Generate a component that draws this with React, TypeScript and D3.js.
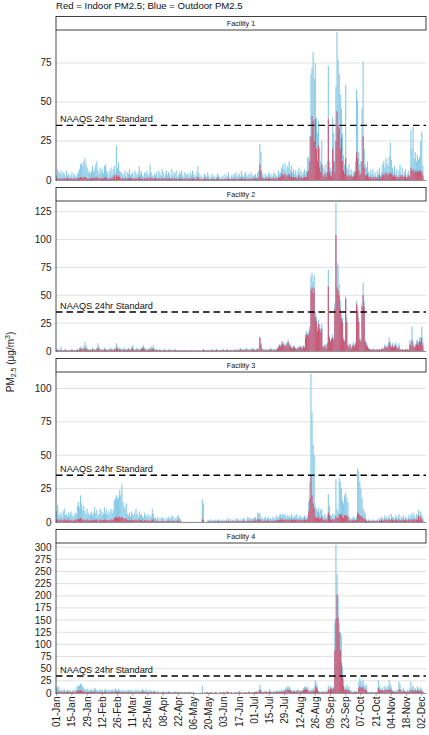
import React from "react";
import * as d3 from "d3";

// ---------------- DATA (daily means, 01-Jan-2020 .. 05-Dec-2020) ----------------
const FACILITIES = ["Facility 1", "Facility 2", "Facility 3", "Facility 4"];
const DATE_TICKS = [
  "01-Jan", "15-Jan", "29-Jan", "12-Feb", "26-Feb", "11-Mar", "25-Mar", "08-Apr",
  "22-Apr", "06-May", "20-May", "03-Jun", "17-Jun", "01-Jul", "15-Jul", "29-Jul",
  "12-Aug", "26-Aug", "09-Sep", "23-Sep", "07-Oct", "21-Oct", "04-Nov", "18-Nov", "02-Dec",
];
const TICK_EVERY_DAYS = 14;
const NAAQS = 35;
const NAAQS_LABEL = "NAAQS 24hr Standard";
const Y_TICK_STEP = 25;
const TITLE = "Red = Indoor PM2.5; Blue = Outdoor PM2.5";

const f1Outdoor = [
  3,7,5,4,6,3,5,4,2,6,3,4,2,3,5,2,4,3,2,4,5,7,10,11,9,12,14,10,8,6,5,
  4,6,9,5,7,10,12,6,4,8,5,7,4,9,10,6,5,3,6,8,4,7,9,5,22,8,11,6,5,
  5,3,4,6,2,5,4,7,3,4,5,2,6,4,3,5,9,4,6,3,2,5,4,6,3,4,10,5,3,2,4,
  3,5,2,6,4,3,7,5,2,4,6,3,5,4,2,7,3,5,4,6,2,3,5,4,6,3,2,5,4,3,
  4,2,5,3,6,4,2,3,5,9,4,2,3,1,2,4,3,2,5,3,1,2,4,2,3,1,2,4,3,2,1,
  2,3,1,4,2,3,5,2,1,3,2,4,3,5,2,3,4,2,6,3,2,4,5,3,2,4,3,5,2,3,
  3,4,2,5,6,23,18,5,3,2,4,3,2,5,3,4,2,3,5,4,3,2,6,4,5,8,10,7,11,6,9,
  8,12,6,9,5,7,4,6,3,5,8,4,6,3,5,7,4,6,15,14,28,68,72,82,65,75,40,30,38,20,12,
  25,8,6,10,5,12,73,12,8,6,40,30,12,60,95,77,68,55,46,30,16,10,61,8,6,10,4,7,3,5,
  6,12,58,51,18,10,12,46,76,20,10,8,12,5,3,6,4,7,3,5,2,6,4,8,3,5,10,12,8,14,11,
  9,15,24,13,8,5,9,4,7,3,6,10,4,8,3,5,7,2,4,6,3,32,20,34,14,18,12,16,13,15,
  25,31,9,null,null,
];
const f1Indoor = [
  1,1,0.5,1,1,0.5,1,1,0.5,1,1,1,0.5,1,1,0.5,1,1,0.5,1,1,1.5,2,1.5,1,2,2,1.5,1,1,1,
  1,1,1.5,1,1,2,2,1,1,1.5,1,1,1,1.5,2,1,1,0.5,1,1.5,1,2,3,1,3,2,3,2,1,
  1,1,1,1.5,0.5,1,1,1.5,1,1,1,0.5,1,1,1,1,2,1,1,0.5,0.5,1,1,1.5,1,1,2,1,1,0.5,1,
  1,1,0.5,1,1,0.5,1.5,1,0.5,1,1,0.5,1,1,0.5,1.5,0.5,1,1,1,0.5,0.5,1,1,1,0.5,0.5,1,1,0.5,
  1,0.5,1,0.5,1,1,0.5,0.5,1,2,1,0.5,0.5,0.3,0.5,1,0.5,0.5,1,0.5,0.3,0.5,1,0.5,0.5,0.3,0.5,1,0.5,0.5,0.3,
  0.5,0.5,0.3,1,0.5,0.5,1,0.5,0.3,0.5,0.5,1,0.5,1,0.5,0.5,1,0.5,1.5,0.5,0.5,1,1,0.5,0.5,1,0.5,1,0.5,1,
  1,1,0.5,1,1.5,10,6,1.5,1,0.5,1,1,0.5,1.5,1,1,0.5,1,1.5,1,1,0.5,2,1.5,2,3,4,2.5,4,2,3,
  3,4,2,3,1.5,2,1.5,2,1,1.5,3,1.5,2,1,1.5,2,1.5,2,5,6,12,28,41,38,25,39,20,12,22,8,5,
  10,3,2,4,2,5,39,5,3,2,20,12,5,25,44,35,33,20,27,12,6,4,14,3,2,3,2,3,2,2,
  3,5,18,14,6,3,4,12,28,8,3,3,4,2,1,2,1,2,1,2,1,2,1,3,1,2,3,4,3,5,4,
  3,4,5,4,3,2,3,2,2,1,2,3,2,3,1,2,3,1,2,3,2,8,6,7,5,6,5,6,5,6,
  6,5,3,null,null,
];

const f2Outdoor = [
  1,2,1,1,4,1,0.5,1,2,0.5,1,0.5,1,1,2,1,0.5,1,1,2,1,3,4,3,2,4,8,5,3,2,1,
  2,1,3,2,1,2,3,7,4,2,1,2,1,3,2,1,2,1,2,3,2,1,3,2,7,4,2,3,2,
  2,1,3,2,1,2,3,2,1,4,5,2,1,2,3,2,1,2,3,4,5,3,2,1,2,3,2,4,3,5,2,
  1,2,1,1,2,1,0.5,1,2,1,1,0.5,1,2,1,0.5,1,1,2,1,0.5,1,1,0.5,1,0.5,1,1,0.5,1,
  0.5,1,0.5,1,0.5,0.5,1,0.5,1,0.5,1,0.5,0.5,1,2,1,0.5,1,0.5,1,0.5,1,2,1,0.5,1,2,1,0.5,1,1,
  1,2,1,0.5,1,2,1,0.5,1,1,0.5,1,2,1,1,2,1,3,2,1,2,1,2,3,1,2,1,2,3,2,
  2,1,2,3,2,13,8,3,2,1,2,1,2,1,2,3,2,1,2,1,2,3,4,6,5,8,9,6,7,5,8,
  10,7,6,4,3,5,4,3,2,4,3,5,4,3,5,4,15,18,16,17,22,67,70,62,68,35,31,22,28,24,20,
  24,5,4,6,3,8,73,14,10,12,15,12,43,133,79,77,60,45,33,30,12,10,49,30,6,4,7,3,5,8,
  5,8,45,40,30,12,10,43,61,45,10,8,5,3,2,1,2,1,2,1,1,2,1,2,1,2,3,2,6,5,4,
  6,12,8,5,7,4,6,8,5,3,7,2,1,2,1,1,2,1,2,1,10,8,22,8,4,6,9,10,8,12,
  12,22,8,null,null,
];
const f2Indoor = [
  0.5,1,0.5,0.5,1,0.5,0.3,0.5,1,0.3,0.5,0.3,0.5,0.5,1,0.5,0.3,0.5,0.5,1,0.5,1.5,2,1.5,1,2,3,2,1.5,1,0.5,
  1,0.5,1.5,1,0.5,1,1.5,3,2,1,0.5,1,0.5,1.5,1,0.5,1,0.5,1,1.5,1,0.5,1.5,1,3,2,1,1.5,1,
  1,0.5,1.5,1,0.5,1,1.5,1,0.5,2,2.5,1,0.5,1,1.5,1,0.5,1,1.5,2,2.5,1.5,1,0.5,1,1.5,1,2,1.5,2.5,1,
  0.5,1,0.5,0.5,1,0.5,0.3,0.5,1,0.5,0.5,0.3,0.5,1,0.5,0.3,0.5,0.5,1,0.5,0.3,0.5,0.5,0.3,0.5,0.3,0.5,0.5,0.3,0.5,
  0.3,0.5,0.3,0.5,0.3,0.3,0.5,0.3,0.5,0.3,0.5,0.3,0.3,0.5,1,0.5,0.3,0.5,0.3,0.5,0.3,0.5,1,0.5,0.3,0.5,1,0.5,0.3,0.5,0.5,
  0.5,1,0.5,0.3,0.5,1,0.5,0.3,0.5,0.5,0.3,0.5,1,0.5,0.5,1,0.5,1.5,1,0.5,1,0.5,1,1.5,0.5,1,0.5,1,1.5,1,
  1,0.5,1,1.5,1,12,6,1.5,1,0.5,1,0.5,1,0.5,1,1.5,1,0.5,1,0.5,1,2,3,5,4,6,7,5,5,4,6,
  8,5,4,3,2,4,3,2,1.5,3,2,4,3,2,4,3,12,15,14,15,19,55,57,52,56,30,27,18,24,20,17,
  20,4,3,5,2,6,58,12,8,10,12,10,38,104,57,54,50,38,29,26,10,8,47,26,5,3,6,2,4,6,
  4,6,42,36,26,10,8,40,50,40,8,6,4,2,1.5,1,1.5,1,1.5,1,1,1.5,1,1.5,1,1.5,2,1.5,4,3,3,
  4,8,5,3,5,3,4,5,3,2,4,1.5,1,1.5,1,1,1.5,1,1.5,1,6,5,10,5,3,4,6,7,5,9,
  8,12,5,null,null,
];

const f3Outdoor = [
  8,13,6,5,7,4,8,10,5,6,4,7,5,8,6,4,5,7,6,12,15,11,20,14,9,12,8,6,10,7,5,
  6,8,5,7,11,7,9,5,6,10,8,5,7,11,6,9,5,8,6,10,7,9,16,18,20,17,19,24,20,
  28,15,12,10,14,6,5,7,4,8,6,5,7,10,6,4,8,5,6,4,3,7,5,4,6,3,5,4,10,6,3,
  3,2,4,1,3,2,4,3,2,1,3,2,4,2,3,5,4,2,3,2,4,5,3,2,null,null,null,null,null,null,
  null,null,null,null,null,null,null,null,null,null,null,null,null,17,14,null,null,null,1,1.5,1,2,1,1.5,1,2,1,1.5,2,1,1.5,
  1,2,1,1.5,2,1,3,1,2,1,1.5,2,1,2,3,2,1.5,2,1,2,3,2,1,2,4,3,2,3,2,3,
  3,4,2,7,6,7,4,3,2,3,4,2,3,4,2,3,2,4,3,2,5,4,3,5,6,4,6,5,6,4,5,
  4,5,3,6,4,3,5,4,6,3,4,5,3,4,3,5,4,3,5,15,30,111,82,58,50,12,10,8,11,7,9,
  10,5,4,6,3,5,21,12,5,4,6,3,6,32,10,8,33,30,25,16,14,20,22,18,15,4,3,2,3,4,
  3,2,4,40,38,30,25,18,10,8,6,2,1,2,1,1.5,1,2,1,1.5,1,2,1,3,2,4,3,2,5,3,4,
  3,5,2,6,4,3,2,5,4,3,6,2,4,3,5,2,4,3,2,5,3,6,4,7,5,3,6,4,9,5,
  8,5,3,null,null,
];
const f3Indoor = [
  1.5,2,1,1.5,2,1,1.5,2,1,1.5,1,2,1,1.5,1,1,1.5,2,1,2,2.5,2,3,2,1.5,2,1.5,1,2,1.5,1,
  1,1.5,1,1.5,2,1.5,2,1,1,2,1.5,1,1.5,2,1,1.5,1,1.5,1,2,1.5,2,3,3.5,4,3,3.5,4,3,
  4,3,2.5,2,3,1.5,1,1.5,1,2,1.5,1,1.5,2,1.5,1,2,1,1.5,1,0.5,1.5,1,1,1.5,0.5,1,1,2,1.5,0.5,
  0.5,0.5,1,0.3,0.5,0.5,1,0.5,0.5,0.3,0.5,0.5,1,0.5,0.5,1,1,0.5,0.5,0.5,1,1,0.5,0.5,null,null,null,null,null,null,
  null,null,null,null,null,null,null,null,null,null,null,null,null,2,1.5,null,null,null,0.3,0.5,0.3,0.5,0.3,0.5,0.3,0.5,0.3,0.5,0.5,0.3,0.5,
  0.3,0.5,0.3,0.5,0.5,0.3,1,0.3,0.5,0.3,0.5,0.5,0.3,0.5,1,0.5,0.5,0.5,0.3,0.5,1,0.5,0.3,0.5,1,1,0.5,1,0.5,1,
  1,1,0.5,2,2,2,1,1,0.5,1,1,0.5,1,1,0.5,1,0.5,1,1,0.5,1.5,1.5,1,1.5,2,1.5,2,1.5,2,1.5,2,
  1.5,2,1,2,1.5,1,2,1.5,2,1,1.5,2,1,1.5,1,2,1.5,1,2,8,17,35,20,14,10,4,3,3,4,2,3,
  4,2,1.5,2,1,2,7,5,2,1.5,2,1,2,4.5,3,3,6,5,6,4,3,5,5,5,4,1.5,1,1,1,1.5,
  1,1,1.5,7,6,5,4.5,4,3,2,2,1,0.5,1,0.5,0.5,0.5,1,0.5,0.5,0.5,1,0.5,1,1,1.5,1,1,2,1,1.5,
  1,2,1,2,1.5,1,1,2,1.5,1,2,1,1.5,1,2,1,1.5,1,1,2,1,2,1.5,2,2,1,2,1.5,5,2,
  4,2,1,null,null,
];

const f4Outdoor = [
  10,14,12,5,7,4,6,8,3,5,7,4,6,5,3,7,4,6,8,14,16,15,20,17,14,10,8,6,9,7,5,
  6,8,4,7,10,9,5,6,4,8,5,7,3,6,9,5,4,7,6,5,8,4,6,9,7,5,8,6,4,
  5,7,4,6,3,5,7,4,6,5,3,4,6,5,7,4,6,3,5,8,6,4,7,5,3,6,4,5,3,4,6,
  3,2,4,3,1,2,3,4,2,3,1,2,4,3,2,1,3,2,4,2,3,1,2,3,2,1,2,3,1,2,
  2,3,1,2,1,2,null,null,null,null,null,null,null,15,null,1,null,2,1,null,1,2,null,1,null,2,1,null,null,1,2,
  null,1,2,null,1,3,2,null,1,2,null,null,1,2,1,null,3,2,null,1,null,2,1,null,2,3,1,null,2,1,
  2,3,4,2,5,17,8,3,2,4,3,5,2,3,8,4,3,2,5,3,4,6,3,5,4,7,5,6,8,10,14,
  12,14,9,6,4,5,7,3,6,8,4,5,6,4,10,12,14,11,13,6,4,8,5,10,7,27,20,14,4,3,2,
  3,4,2,5,3,4,15,8,14,12,10,14,145,305,245,200,145,125,120,55,28,12,9,17,10,14,7,4,3,2,
  4,3,5,2,22,31,25,20,28,17,12,17,3,2,1,2,3,1,2,1,2,3,27,14,10,8,12,6,15,10,12,
  15,27,18,12,6,4,5,3,6,4,24,18,8,5,10,6,4,3,7,5,9,24,12,15,8,10,6,14,9,7,
  12,8,5,null,null,
];
const f4Indoor = [
  2,3,3,2,3,2,2,3,1.5,2,3,2,2,2,1.5,3,2,2,3,4,5,5,6,5,4,3,3,2,3,2,2,
  2,3,2,2,3,3,2,2,1.5,3,2,2,1.5,2,3,2,1.5,2,2,2,3,1.5,2,3,2,2,3,2,1.5,
  2,2,1.5,2,1,2,2,1.5,2,2,1,1.5,2,2,2,1.5,2,1,2,3,2,1.5,2,2,1,2,1.5,2,1,1.5,2,
  1,1,1.5,1,0.5,1,1,1.5,1,1,0.5,1,1.5,1,1,0.5,1,1,1.5,1,1,0.5,1,1,1,0.5,1,1,0.5,1,
  1,1,0.5,1,0.5,1,null,null,null,null,null,null,null,1,null,1,null,2,1,null,1,2,null,1,null,2,1,null,null,1,2,
  null,1,2,null,1,3,2,null,1,2,null,null,1,2,1,null,3,2,null,1,null,2,1,null,2,3,1,null,2,1,
  1,2,2,1,3,7,4,1.5,1,2,1.5,2,1,1.5,3,2,1.5,1,2,1.5,2,3,1.5,2,2,3,2,3,4,5,7,
  6,7,5,3,2,3,4,2,3,5,2,3,4,3,6,7,8,6,7,3,2,4,3,5,4,14,10,7,2,1.5,1,
  1.5,2,1,2,1.5,2,8,4,10,8,6,10,88,152,203,155,125,88,62,35,14,6,5,8,5,6,3,2,1.5,1,
  2,1.5,2,1,10,13,12,10,13,8,5,7,1.5,1,0.5,1,1.5,0.5,1,0.5,1,1.5,10,6,5,4,6,3,7,5,6,
  6,8,7,5,3,2,2,1.5,3,2,8,7,3,2,4,3,2,1.5,3,2,4,6,5,6,4,5,3,6,4,3,
  5,4,2,null,null,
];

// ---------------- LAYOUT ----------------
const W = 429;
const H = 735;
const LEFT = 56;
const RIGHT = 426;
const PANEL_TOPS = [30, 201, 372, 543];
const PLOT_H = 150;
const STRIP_H = 13.5;
const BLUE = "#88CAE7";
const RED = "#CF4F6C";
const FONT = "'Liberation Sans', Arial, Helvetica, sans-serif";

type Row = { name: string; out: (number | null)[]; inn: (number | null)[] };

export default function App() {
  const rows: Row[] = [
    { name: FACILITIES[0], out: f1Outdoor, inn: f1Indoor },
    { name: FACILITIES[1], out: f2Outdoor, inn: f2Indoor },
    { name: FACILITIES[2], out: f3Outdoor, inn: f3Indoor },
    { name: FACILITIES[3], out: f4Outdoor, inn: f4Indoor },
  ];
  const nDays = d3.max(rows, (r) => r.out.length) as number;
  const x = d3.scaleLinear().domain([-0.6, nDays - 0.1]).range([LEFT, RIGHT]);
  const step = x(1) - x(0);
  const lastTop = PANEL_TOPS[PANEL_TOPS.length - 1];
  const axisY = lastTop + PLOT_H + 0.5;

  return (
    <svg
      width={W}
      height={H}
      viewBox={`0 0 ${W} ${H}`}
      style={{ position: "absolute", left: 0, top: 0, background: "#fff" }}
      fontFamily={FONT}
    >
      <rect x={0} y={0} width={W} height={H} fill="#fff" />
      <text x={56} y={9.3} fontSize={9.6} fill="#111">{TITLE}</text>

      {rows.map((r, i) => {
        const top = PANEL_TOPS[i];
        const vals = r.out.filter((v) => v != null) as number[];
        const yMax = (d3.max(vals) as number) * 1.012;
        const y = d3.scaleLinear().domain([0, yMax]).range([top + PLOT_H, top]);
        const ticks = d3.range(0, yMax, Y_TICK_STEP);
        const clipId = `clip-${i}`;
        return (
          <g key={r.name}>
            <defs>
              <clipPath id={clipId}>
                <rect x={LEFT} y={top} width={RIGHT - LEFT} height={PLOT_H + 1} />
              </clipPath>
            </defs>
            {/* strip */}
            <rect x={LEFT} y={top - STRIP_H} width={RIGHT - LEFT} height={STRIP_H} fill="#fff" stroke="#111" strokeWidth={0.8} />
            <text x={(LEFT + RIGHT) / 2} y={top - STRIP_H / 2} dy="0.35em" fontSize={7.2} textAnchor="middle" fill="#111">{r.name}</text>
            {/* grid */}
            {ticks.map((t) => (
              <line key={t} x1={LEFT} x2={RIGHT} y1={y(t)} y2={y(t)} stroke="#d9d9d9" strokeWidth={0.8} />
            ))}
            {/* bars */}
            <g clipPath={`url(#${clipId})`}>
              {r.out.map((v, d) =>
                v == null ? null : (
                  <rect key={`o${d}`} x={x(d - 0.5)} y={y(v)} width={step + 0.05} height={y(0) - y(v)} fill={BLUE} />
                )
              )}
              {r.inn.map((v, d) =>
                v == null ? null : (
                  <rect key={`i${d}`} x={x(d - 0.5)} y={y(v)} width={step + 0.05} height={y(0) - y(v)} fill={RED} fillOpacity={0.92} />
                )
              )}
            </g>
            {/* NAAQS */}
            <line x1={LEFT} x2={RIGHT} y1={y(NAAQS)} y2={y(NAAQS)} stroke="#000" strokeWidth={1.4} strokeDasharray="6.5,4" />
            <text x={60} y={y(NAAQS) - 3} fontSize={9.2} fill="#111">{NAAQS_LABEL}</text>
            {/* axes */}
            <line x1={LEFT} x2={LEFT} y1={top} y2={top + PLOT_H + 1} stroke="#222" strokeWidth={0.8} />
            <line x1={LEFT} x2={RIGHT} y1={top + PLOT_H + 0.5} y2={top + PLOT_H + 0.5} stroke="#555" strokeWidth={0.6} />
            {ticks.map((t) => (
              <text key={`l${t}`} x={51.5} y={y(t)} dy="0.35em" fontSize={10} textAnchor="end" fill="#222">{t}</text>
            ))}
          </g>
        );
      })}

      {/* x tick labels */}
      {DATE_TICKS.map((lab, k) => {
        const xx = x(k * TICK_EVERY_DAYS);
        return (
          <g key={lab}>
            <line x1={xx} x2={xx} y1={axisY} y2={axisY + 2} stroke="#555" strokeWidth={0.6} />
            <text transform={`translate(${xx},${axisY + 3}) rotate(-90)`} dy="0.35em" fontSize={10} textAnchor="end" fill="#222">{lab}</text>
          </g>
        );
      })}

      {/* y title */}
      <text transform="translate(13.5,362) rotate(-90)" fontSize={10} textAnchor="middle" fill="#222">
        PM<tspan fontSize={7} dy={2}>2.5</tspan><tspan dy={-2}> (μg/m</tspan><tspan fontSize={7} dy={-4}>3</tspan><tspan dy={4}>)</tspan>
      </text>
    </svg>
  );
}
